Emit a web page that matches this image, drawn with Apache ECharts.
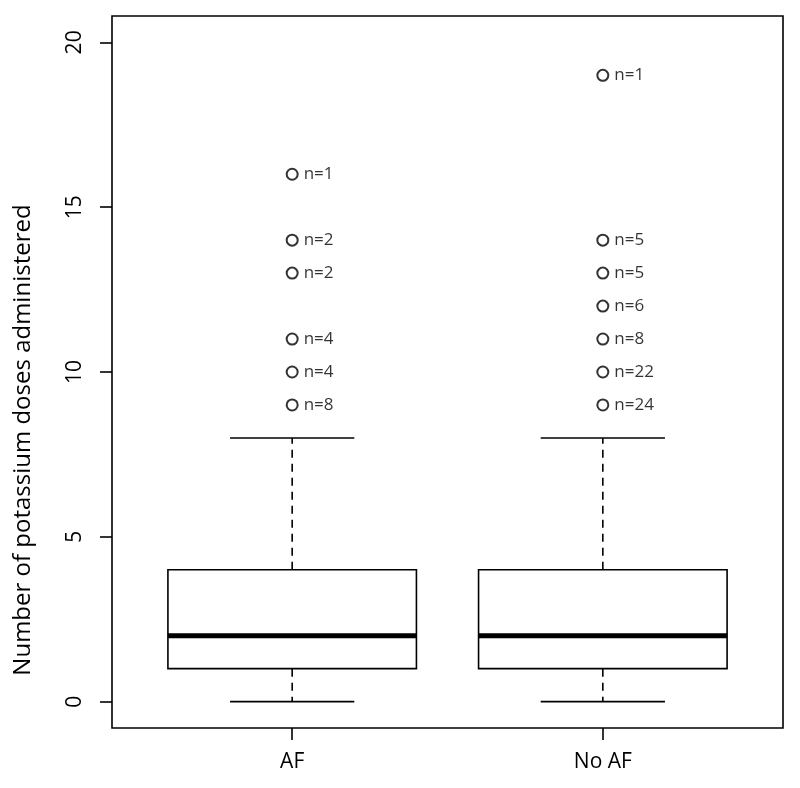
<!DOCTYPE html>
<html>
<head>
<meta charset="utf-8">
<script src="https://cdn.jsdelivr.net/npm/echarts@6/dist/echarts.min.js"></script>
<style>html,body{margin:0;padding:0;background:#fff;}#c{width:800px;height:788px;}</style>
</head>
<body>
<div id="c"></div>
<script>
var categories = ['AF', 'No AF'];
// [lower whisker, Q1, median, Q3, upper whisker]
var boxAF = [0, 1, 2, 4, 8];
var boxNoAF = [0, 1, 2, 4, 8];
var outlierValuesAF = [9, 10, 11, 13, 14, 16];
var outlierCountsAF = [8, 4, 4, 2, 2, 1];
var outlierValuesNoAF = [9, 10, 11, 12, 13, 14, 19];
var outlierCountsNoAF = [24, 22, 8, 6, 5, 5, 1];
var yTicks = [0, 5, 10, 15, 20];
var yTitle = 'Number of potassium doses administered';

var FONT = 'Open Sans';
var boxes = [boxAF, boxNoAF];
var boxData = boxes.map(function (b, i) { return [i + 1].concat(b); });
var outData = [];
outlierValuesAF.forEach(function (v, i) { outData.push([1, v, outlierCountsAF[i]]); });
outlierValuesNoAF.forEach(function (v, i) { outData.push([2, v, outlierCountsNoAF[i]]); });

var chart = echarts.init(document.getElementById('c'), null, {renderer: 'canvas'});
chart.setOption({
  animation: false,
  backgroundColor: '#fff',
  grid: {left: 112, right: 17, top: 16, bottom: 60, show: true, borderColor: '#000', borderWidth: 1.6, backgroundColor: 'transparent'},
  xAxis: {
    type: 'value', min: 0.42, max: 2.58,
    splitLine: {show: false},
    axisLine: {show: false, onZero: false},
    axisTick: {show: true, length: 12, lineStyle: {color: '#000', width: 1.6}, customValues: [1, 2]},
    axisLabel: {customValues: [1, 2], margin: 24, color: '#000', fontFamily: FONT, fontSize: 21,
      formatter: function (v) { return categories[Math.round(v) - 1] || ''; }}
  },
  yAxis: {
    type: 'value', min: -0.8, max: 20.8,
    splitLine: {show: false},
    axisLine: {show: false, onZero: false},
    axisTick: {show: true, length: 12, lineStyle: {color: '#000', width: 1.6}, customValues: yTicks},
    axisLabel: {customValues: yTicks, rotate: 90, margin: 26, color: '#000', fontFamily: FONT, fontSize: 21}
  },
  graphic: [{
    type: 'text', x: 23, y: 440, rotation: Math.PI / 2,
    style: {text: yTitle, fill: '#000', font: '24px "' + FONT + '"', align: 'center', verticalAlign: 'middle'}
  }],
  series: [{
    type: 'custom',
    data: boxData,
    renderItem: function (params, api) {
      var x = api.value(0);
      var lo = api.coord([x, api.value(1)]);
      var q1 = api.coord([x, api.value(2)]);
      var med = api.coord([x, api.value(3)]);
      var q3 = api.coord([x, api.value(4)]);
      var hi = api.coord([x, api.value(5)]);
      var halfBox = api.size([0.4, 0])[0];
      var halfCap = api.size([0.2, 0])[0];
      var cx = lo[0];
      var st = {stroke: '#000', lineWidth: 1.6, fill: null};
      var dash = {stroke: '#000', lineWidth: 1.6, lineDash: [8, 6]};
      return {type: 'group', children: [
        {type: 'line', shape: {x1: cx, y1: q3[1], x2: cx, y2: hi[1]}, style: dash},
        {type: 'line', shape: {x1: cx, y1: q1[1], x2: cx, y2: lo[1]}, style: dash},
        {type: 'line', shape: {x1: cx - halfCap, y1: hi[1], x2: cx + halfCap, y2: hi[1]}, style: st},
        {type: 'line', shape: {x1: cx - halfCap, y1: lo[1], x2: cx + halfCap, y2: lo[1]}, style: st},
        {type: 'rect', shape: {x: cx - halfBox, y: q3[1], width: 2 * halfBox, height: q1[1] - q3[1]}, style: {stroke: '#000', lineWidth: 1.6, fill: '#fff'}},
        {type: 'line', shape: {x1: cx - halfBox, y1: med[1], x2: cx + halfBox, y2: med[1]}, style: {stroke: '#000', lineWidth: 5}}
      ]};
    },
    z: 2
  }, {
    type: 'scatter',
    data: outData,
    symbol: 'circle',
    symbolSize: 11,
    itemStyle: {color: '#fff', borderColor: '#000', borderWidth: 2},
    label: {show: true, position: 'right', distance: 5, color: '#000', fontFamily: FONT, fontSize: 17,
      formatter: function (p) { return 'n=' + p.value[2]; }},
    z: 3
  }]
});
</script>
</body>
</html>
